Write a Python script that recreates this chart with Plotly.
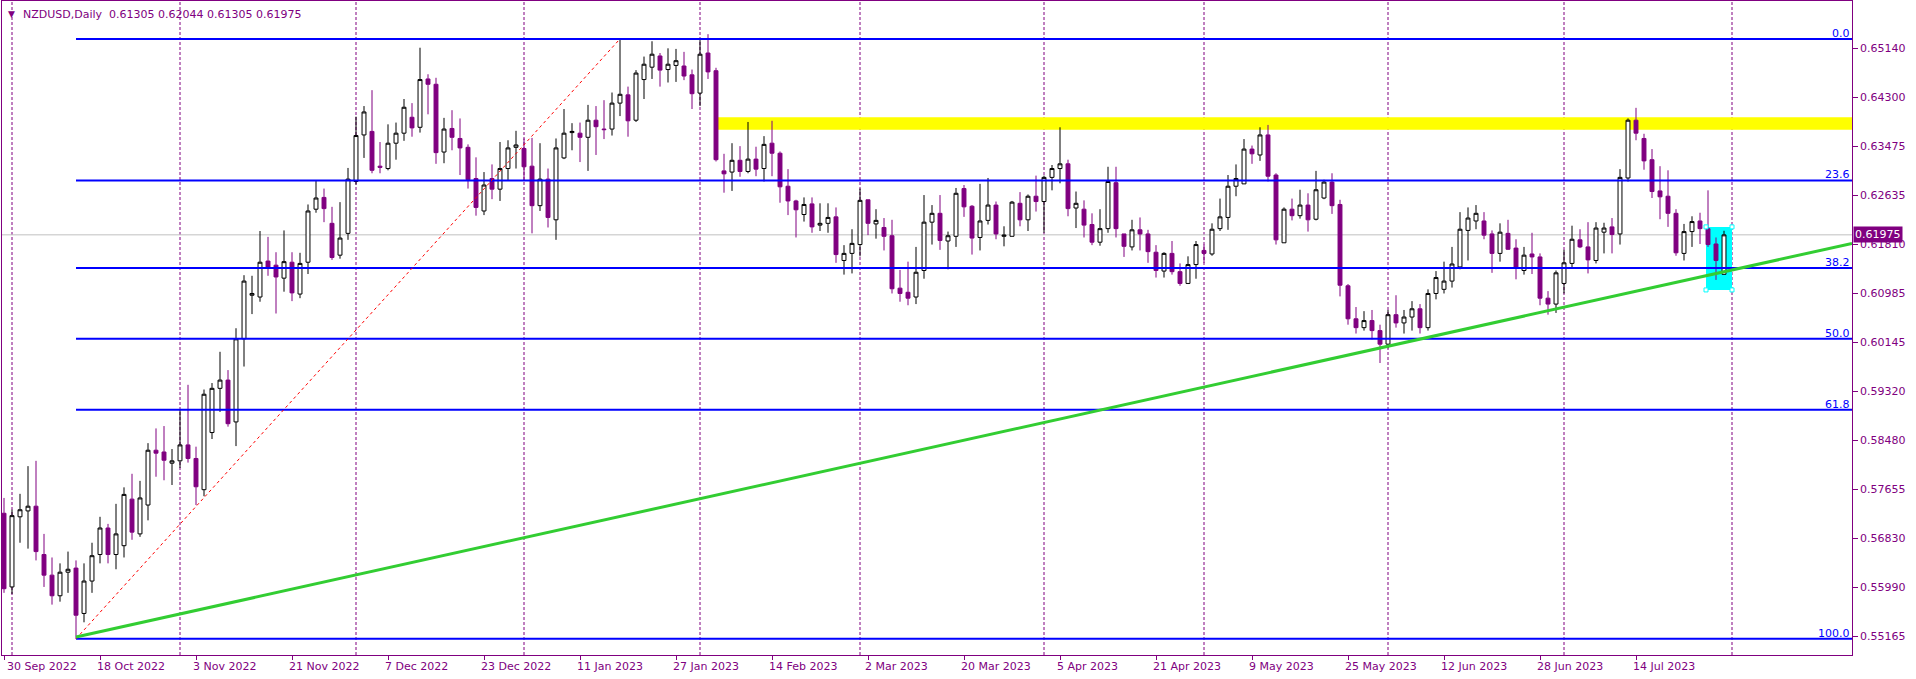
import pandas as pd
import plotly.graph_objects as go

# ---------------- data ----------------
symbol_title = "NZDUSD,Daily"

opens = [0.5725,0.5600,0.5719,0.5729,0.5737,0.5655,0.5620,0.5585,0.5625,0.5632,
         0.5555,0.5610,0.5655,0.5700,0.5655,0.5670,0.5749,0.5690,0.5739,0.5832,
         0.5829,0.5810,0.5814,0.5841,0.5818,0.5765,0.5862,0.5937,0.5951,0.5880,
         0.6021,0.6095,0.6092,0.6153,0.6146,0.6124,0.6151,0.6097,0.6151,0.6241,
         0.6261,0.6217,0.6163,0.6200,0.6288,0.6367,0.6373,0.6314,0.6310,0.6353,
         0.6370,0.6397,0.6380,0.6462,0.6453,0.6338,0.6378,0.6361,0.6346,0.6293,
         0.6238,0.6293,0.6275,0.6310,0.6346,0.6344,0.6314,0.6247,0.6292,0.6223,
         0.6328,0.6371,0.6370,0.6363,0.6392,0.6377,0.6377,0.6421,0.6435,0.6392,
         0.6461,0.6482,0.6501,0.6478,0.6485,0.6484,0.6469,0.6438,0.6506,0.6476,
         0.6306,0.6304,0.6324,0.6305,0.6326,0.6310,0.6353,0.6336,0.6280,0.6255,
         0.6232,0.6250,0.6214,0.6217,0.6228,0.6154,0.6166,0.6181,0.6257,0.6216,
         0.6210,0.6196,0.6107,0.6100,0.6092,0.6137,0.6219,0.6234,0.6187,0.6195,
         0.6276,0.6246,0.6193,0.6222,0.6248,0.6195,0.6195,0.6251,0.6223,0.6263,
         0.6254,0.6295,0.6310,0.6318,0.6243,0.6241,0.6215,0.6185,0.6208,0.6286,
         0.6199,0.6177,0.6206,0.6199,0.6168,0.6136,0.6166,0.6135,0.6115,0.6147,
         0.6171,0.6165,0.6208,0.6227,0.6280,0.6284,0.6343,0.6333,0.6367,0.6299,
         0.6184,0.6241,0.6230,0.6248,0.6224,0.6260,0.6287,0.6249,0.6111,0.6055,
         0.6040,0.6052,0.6035,0.6012,0.6062,0.6048,0.6058,0.6072,0.6040,0.6098,
         0.6105,0.6119,0.6143,0.6205,0.6221,0.6221,0.6199,0.6166,0.6200,0.6175,
         0.6137,0.6165,0.6160,0.6090,0.6080,0.6115,0.6149,0.6189,0.6177,0.6154,
         0.6202,0.6211,0.6199,0.6294,0.6392,0.6361,0.6325,0.6272,0.6263,0.6234,
         0.6166,0.6203,0.6221,0.6208,0.6182,0.61305]
highs = [0.5751,0.5731,0.5758,0.5805,0.5814,0.5690,0.5650,0.5640,0.5660,0.5645,
         0.5640,0.5675,0.5719,0.5707,0.5741,0.5769,0.5792,0.5780,0.5844,0.5869,
         0.5873,0.5834,0.5901,0.5943,0.5838,0.5935,0.5946,0.5999,0.5968,0.6039,
         0.6129,0.6128,0.6204,0.6194,0.6168,0.6205,0.6168,0.6167,0.6249,0.6289,
         0.6276,0.6245,0.6253,0.6311,0.6398,0.6416,0.6443,0.6355,0.6385,0.6388,
         0.6428,0.6421,0.6515,0.6470,0.6464,0.6396,0.6409,0.6395,0.6351,0.6329,
         0.6304,0.6317,0.6355,0.6358,0.6374,0.6361,0.6362,0.6353,0.6310,0.6361,
         0.6411,0.6387,0.6388,0.6418,0.6416,0.6426,0.6439,0.6530,0.6449,0.6477,
         0.6500,0.6526,0.6506,0.6514,0.6513,0.6508,0.6478,0.6528,0.6538,0.6481,
         0.6335,0.6353,0.6348,0.6389,0.6347,0.6365,0.6391,0.6339,0.6309,0.6257,
         0.6261,0.6261,0.6251,0.6251,0.6244,0.6180,0.6207,0.6276,0.6257,0.6241,
         0.6226,0.6223,0.6138,0.6152,0.6177,0.6265,0.6248,0.6265,0.6203,0.6277,
         0.6282,0.6248,0.6284,0.6294,0.6254,0.6212,0.6255,0.6270,0.6266,0.6298,
         0.6298,0.6316,0.6380,0.6325,0.6271,0.6256,0.6234,0.6241,0.6313,0.6313,
         0.6199,0.6223,0.6227,0.6206,0.6180,0.6168,0.6187,0.6149,0.6161,0.6187,
         0.6181,0.6217,0.6259,0.6299,0.6317,0.6360,0.6349,0.6380,0.6384,0.6302,
         0.6244,0.6259,0.6274,0.6268,0.6306,0.6291,0.6302,0.6257,0.6114,0.6075,
         0.6068,0.6070,0.6045,0.6070,0.6095,0.6070,0.6085,0.6080,0.6105,0.6136,
         0.6152,0.6177,0.6236,0.6244,0.6248,0.6236,0.6205,0.6217,0.6223,0.6190,
         0.6177,0.6201,0.6166,0.6102,0.6137,0.6172,0.6213,0.6207,0.6219,0.6219,
         0.6218,0.6226,0.6309,0.6395,0.6413,0.6369,0.6343,0.6314,0.6307,0.6241,
         0.6216,0.6229,0.6235,0.6273,0.6193,0.62044]
lows = [0.5590,0.5588,0.5675,0.5665,0.5645,0.5600,0.5570,0.5575,0.5590,0.5512,
        0.5540,0.5590,0.5640,0.5640,0.5630,0.5650,0.5680,0.5685,0.5713,0.5787,
        0.5781,0.5773,0.5802,0.5811,0.5739,0.5754,0.5851,0.5897,0.5872,0.5839,
        0.5974,0.6063,0.6084,0.6128,0.6064,0.6101,0.6085,0.6090,0.6131,0.6235,
        0.6219,0.6155,0.6157,0.6189,0.6283,0.6328,0.6302,0.6302,0.6307,0.6325,
        0.6357,0.6364,0.6371,0.6402,0.6318,0.6319,0.6341,0.6299,0.6276,0.6230,
        0.6231,0.6258,0.6255,0.6290,0.6310,0.6290,0.6200,0.6238,0.6210,0.6189,
        0.6326,0.6341,0.6321,0.6306,0.6333,0.6360,0.6366,0.6399,0.6364,0.6389,
        0.6428,0.6462,0.6449,0.6456,0.6457,0.6460,0.6411,0.6416,0.6462,0.6322,
        0.6269,0.6272,0.6296,0.6302,0.6297,0.6288,0.6297,0.6252,0.6231,0.6193,
        0.6220,0.6201,0.6204,0.6201,0.6150,0.6130,0.6132,0.6161,0.6197,0.6191,
        0.6171,0.6098,0.6084,0.6078,0.6080,0.6123,0.6181,0.6172,0.6139,0.6177,
        0.6228,0.6164,0.6171,0.6215,0.6190,0.6178,0.6195,0.6212,0.6204,0.6237,
        0.6201,0.6273,0.6285,0.6229,0.6209,0.6193,0.6180,0.6179,0.6201,0.6193,
        0.6160,0.6171,0.6171,0.6150,0.6125,0.6125,0.6130,0.6111,0.6114,0.6123,
        0.6150,0.6162,0.6204,0.6206,0.6263,0.6284,0.6318,0.6323,0.6288,0.6181,
        0.6184,0.6222,0.6225,0.6203,0.6222,0.6258,0.6233,0.6093,0.6045,0.6030,
        0.6035,0.6020,0.5980,0.6005,0.6040,0.6030,0.6035,0.6030,0.6035,0.6088,
        0.6098,0.6108,0.6139,0.6154,0.6207,0.6190,0.6133,0.6152,0.6172,0.6122,
        0.6130,0.6131,0.6078,0.6062,0.6065,0.6098,0.6141,0.6175,0.6132,0.6149,
        0.6166,0.6166,0.6181,0.6288,0.6358,0.6308,0.6260,0.6224,0.6211,0.6162,
        0.6154,0.6177,0.6182,0.6177,0.6121,0.61305]
closes = [0.5597,0.5721,0.5731,0.5737,0.5660,0.5620,0.5585,0.5625,0.5630,0.5552,
          0.5610,0.5653,0.5700,0.5655,0.5690,0.5757,0.5693,0.5751,0.5832,0.5827,
          0.5815,0.5814,0.5841,0.5818,0.5770,0.5927,0.5937,0.5951,0.5877,0.6021,
          0.6119,0.6098,0.6151,0.6141,0.6126,0.6152,0.6099,0.6149,0.6238,0.6260,
          0.6242,0.6159,0.6192,0.6292,0.6366,0.6406,0.6307,0.6312,0.6353,0.6370,
          0.6414,0.6379,0.6461,0.6453,0.6337,0.6377,0.6363,0.6345,0.6291,0.6244,
          0.6282,0.6275,0.6310,0.6345,0.6350,0.6313,0.6247,0.6292,0.6227,0.6345,
          0.6370,0.6373,0.6363,0.6392,0.6381,0.6376,0.6421,0.6436,0.6391,0.6472,
          0.6487,0.6504,0.6477,0.6487,0.6493,0.6467,0.6437,0.6504,0.6474,0.6325,
          0.6301,0.6324,0.6305,0.6326,0.6309,0.6351,0.6336,0.6279,0.6255,0.6240,
          0.6249,0.6211,0.6217,0.6227,0.6164,0.6166,0.6183,0.6256,0.6217,0.6222,
          0.6195,0.6106,0.6098,0.6090,0.6134,0.6219,0.6234,0.6188,0.6196,0.6268,
          0.6245,0.6192,0.6221,0.6248,0.6199,0.6197,0.6253,0.6223,0.6263,0.6254,
          0.6295,0.6310,0.6318,0.6242,0.6251,0.6214,0.6185,0.6208,0.6288,0.6208,
          0.6178,0.6206,0.6199,0.6169,0.6137,0.6166,0.6135,0.6115,0.6147,0.6181,
          0.6166,0.6207,0.6228,0.6280,0.6293,0.6343,0.6335,0.6367,0.6297,0.6189,
          0.6241,0.6230,0.6248,0.6223,0.6274,0.6287,0.6247,0.6112,0.6055,0.6040,
          0.6052,0.6035,0.6012,0.6062,0.6048,0.6058,0.6072,0.6040,0.6098,0.6125,
          0.6119,0.6148,0.6207,0.6226,0.6234,0.6197,0.6166,0.6202,0.6173,0.6141,
          0.6163,0.6160,0.6090,0.6080,0.6133,0.6150,0.6190,0.6177,0.6155,0.6209,
          0.6209,0.6198,0.6295,0.6392,0.6370,0.6323,0.6271,0.6262,0.6234,0.6167,
          0.6203,0.6220,0.6208,0.6181,0.6154,0.61975]

date_tick_labels = ["30 Sep 2022", "18 Oct 2022", "3 Nov 2022", "21 Nov 2022", "7 Dec 2022",
                    "23 Dec 2022", "11 Jan 2023", "27 Jan 2023", "14 Feb 2023", "2 Mar 2023",
                    "20 Mar 2023", "5 Apr 2023", "21 Apr 2023", "9 May 2023", "25 May 2023",
                    "12 Jun 2023", "28 Jun 2023", "14 Jul 2023"]
price_tick_labels = ["0.65140", "0.64300", "0.63475", "0.62635", "0.61810", "0.60985", "0.60145",
                     "0.59320", "0.58480", "0.57655", "0.56830", "0.55990", "0.55165"]

fib_levels = [0.0, 23.6, 38.2, 50.0, 61.8, 100.0]
fib_low_bar, fib_high_bar = 9, 77
trend_bars = [9, 231]
trend_prices = [0.5515, 0.6183]
zone_bar_start = 89.2
zone_prices = [0.6376, 0.6397]
box_bars = [212.75, 216.0]
box_prices = [0.6104, 0.6211]

# ---------------- derived ----------------
dates = pd.bdate_range("2022-09-30", "2023-07-31").drop(pd.Timestamp("2022-12-26"))
n = len(dates)
idx = list(range(n))
assert n == len(opens) == len(highs) == len(lows) == len(closes)
tick_idx = [dates.get_loc(pd.to_datetime(t, format="%d %b %Y")) for t in date_tick_labels]
month_starts = [i for i in range(1, n) if dates[i].month != dates[i - 1].month] + [n]

PURPLE = "#800080"
BLUE = "#0000FF"
FONT = "DejaVu Sans"
X_MIN, X_MAX = -0.25, 231.0
Y_MIN, Y_MAX = 0.54845, 0.65943

fib_low = lows[fib_low_bar]
fib_high = highs[fib_high_bar]
last_close = closes[-1]

fig = go.Figure()

shapes = []
for m in month_starts:
    shapes.append(dict(type="line", xref="x", yref="paper", x0=m, x1=m, y0=0, y1=1,
                       line=dict(color=PURPLE, width=1, dash="3px,2px"), layer="below"))
shapes.append(dict(type="line", xref="paper", yref="y", x0=0, x1=1, y0=last_close, y1=last_close,
                   line=dict(color="#C0C0C0", width=1), layer="below"))
shapes.append(dict(type="rect", xref="x", yref="y", x0=zone_bar_start, x1=X_MAX,
                   y0=zone_prices[0], y1=zone_prices[1], fillcolor="#FFFF00",
                   line=dict(width=0), layer="below"))
shapes.append(dict(type="rect", xref="x", yref="y", x0=box_bars[0], x1=box_bars[1],
                   y0=box_prices[0], y1=box_prices[1], fillcolor="#00FFFF",
                   line=dict(width=0), layer="below"))

fig.add_trace(go.Candlestick(
    x=idx, open=opens, high=highs, low=lows, close=closes,
    increasing=dict(line=dict(color="black", width=1), fillcolor="white"),
    decreasing=dict(line=dict(color=PURPLE, width=1), fillcolor=PURPLE),
    whiskerwidth=0, showlegend=False, hoverinfo="skip"))

for lvl in fib_levels:
    p = fib_high - lvl / 100.0 * (fib_high - fib_low)
    fig.add_trace(go.Scatter(x=[fib_low_bar, X_MAX], y=[p, p], mode="lines",
                             line=dict(color=BLUE, width=2), showlegend=False, hoverinfo="skip"))
    fig.add_annotation(x=X_MAX, y=p, xref="x", yref="y", xanchor="right", yanchor="bottom",
                       text="%.1f" % lvl, showarrow=False, yshift=-3, xshift=0,
                       font=dict(family=FONT, size=11, color=BLUE))

fig.add_trace(go.Scatter(x=[fib_low_bar, fib_high_bar], y=[fib_low, fib_high], mode="lines",
                         line=dict(color="red", width=1, dash="dot"), showlegend=False, hoverinfo="skip"))
fig.add_trace(go.Scatter(x=trend_bars, y=trend_prices, mode="lines",
                         line=dict(color="#32CD32", width=3), showlegend=False, hoverinfo="skip"))
fig.add_trace(go.Scatter(x=[box_bars[0], box_bars[1], box_bars[0], box_bars[1]],
                         y=[box_prices[0], box_prices[0], box_prices[1], box_prices[1]],
                         mode="markers", marker=dict(symbol="square", size=4, color="white",
                                                     line=dict(color="#00FFFF", width=1)),
                         showlegend=False, hoverinfo="skip"))

# y-axis price labels (placed exactly to the right of the tick marks)
for t in price_tick_labels:
    fig.add_annotation(x=1, y=float(t), xref="paper", yref="y", xanchor="left", yanchor="middle",
                       xshift=6, text=t, showarrow=False,
                       font=dict(family=FONT, size=11, color=PURPLE))

# x-axis date labels, left-aligned at their tick marks
for ti, t in zip(tick_idx, date_tick_labels):
    fig.add_annotation(x=ti, y=0, xref="x", yref="paper", xanchor="left", yanchor="top",
                       xshift=(-5 if ti > 0 else 1), yshift=-3, text=t, showarrow=False,
                       font=dict(family=FONT, size=11, color=PURPLE))

# header
fig.add_annotation(x=0, y=1, xref="paper", yref="paper", xanchor="left", yanchor="top",
                   xshift=4, yshift=-6, text="▼", showarrow=False,
                   font=dict(family=FONT, size=9, color=PURPLE))
header = symbol_title + "\u00a0\u00a0" + " ".join("%.5f" % v for v in
                                                  (opens[-1], highs[-1], lows[-1], closes[-1]))
fig.add_annotation(x=0, y=1, xref="paper", yref="paper", xanchor="left", yanchor="top",
                   xshift=19, yshift=-5, text=header, showarrow=False,
                   font=dict(family=FONT, size=11, color=PURPLE))
# current price tag
fig.add_annotation(x=1, y=last_close, xref="paper", yref="y", xanchor="left", yanchor="middle",
                   xshift=1, text="%.5f" % last_close, showarrow=False, bgcolor=PURPLE,
                   borderpad=1, font=dict(family=FONT, size=11, color="white"))

fig.update_layout(
    width=1916, height=679,
    margin=dict(l=2, r=64, t=1, b=24),
    paper_bgcolor="white", plot_bgcolor="white",
    showlegend=False, hovermode=False,
    shapes=shapes,
    font=dict(family=FONT, size=11, color=PURPLE),
    xaxis=dict(range=[X_MIN, X_MAX], tickmode="array", tickvals=tick_idx, showticklabels=False,
               ticks="outside", ticklen=4, tickcolor=PURPLE, showline=True, linecolor=PURPLE,
               linewidth=1, mirror=True, showgrid=False, zeroline=False,
               rangeslider=dict(visible=False)),
    yaxis=dict(range=[Y_MIN, Y_MAX], side="right", tickmode="array",
               tickvals=[float(t) for t in price_tick_labels], showticklabels=False,
               ticks="outside", ticklen=5, tickcolor=PURPLE, showline=True, linecolor=PURPLE,
               linewidth=1, mirror=True, showgrid=False, zeroline=False),
)

fig.write_html("out.html", config={"displayModeBar": False},
               post_script="document.body.style.margin='0';document.body.style.overflow='hidden';")
